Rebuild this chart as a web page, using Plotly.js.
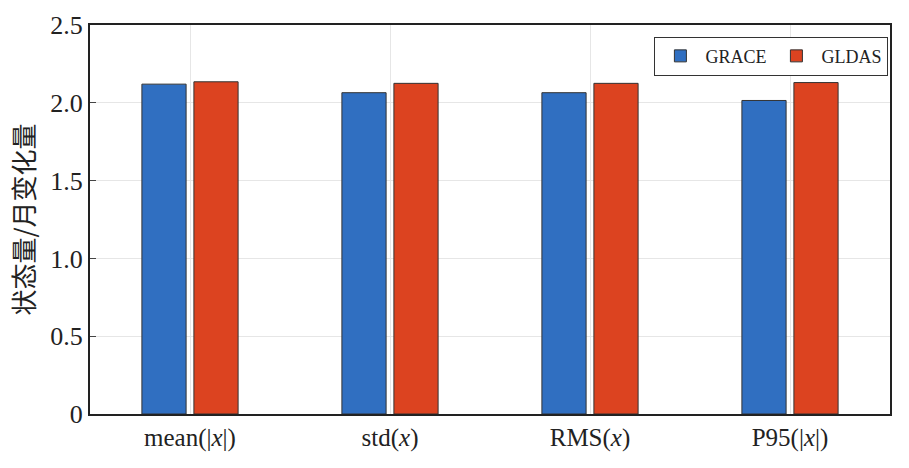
<!DOCTYPE html>
<html><head><meta charset="utf-8">
<script src="https://cdn.plot.ly/plotly-3.0.1.min.js"></script>
<style>body{margin:0}</style></head>
<body><div id="chart" style="width:909px;height:468px"></div>
<script>
var categories = ["mean(|<i>x</i>|)", "std(<i>x</i>)", "RMS(<i>x</i>)", "P95(|<i>x</i>|)"];
var grace = [2.12, 2.065, 2.065, 2.015];
var gldas = [2.135, 2.125, 2.125, 2.13];
var yTicks = [0, 0.5, 1, 1.5, 2, 2.5];
var yTickText = ["0", "0.5", "1.0", "1.5", "2.0", "2.5"];

var serif = "Liberation Serif, Times New Roman, serif";
var data = [
  {type: "bar", name: "GRACE", x: categories, y: grace,
   marker: {color: "#306fc1", line: {color: "#333333", width: 1}}},
  {type: "bar", name: "GLDAS", x: categories, y: gldas,
   marker: {color: "#dc4320", line: {color: "#333333", width: 1}}}
];
var layout = {
  width: 909, height: 468,
  margin: {l: 90, r: 19, t: 25, b: 54},
  paper_bgcolor: "#ffffff", plot_bgcolor: "#ffffff",
  font: {family: serif, size: 22, color: "#222222"},
  bargap: 0.48, bargroupgap: 0.15,
  showlegend: true,
  legend: {x: 0.998, y: 0.97, xanchor: "right", yanchor: "top", orientation: "h",
           bgcolor: "#ffffff", bordercolor: "#333333", borderwidth: 1,
           itemwidth: 40, tracegroupgap: 0,
           font: {family: serif, size: 18}},
  xaxis: {showline: true, mirror: true, linecolor: "#222222", linewidth: 2,
          showgrid: true, gridcolor: "#e6e6e6", ticks: "", tickfont: {size: 25}},
  yaxis: {range: [0, 2.5], tickvals: yTicks, ticktext: yTickText,
          showline: true, mirror: true, linecolor: "#222222", linewidth: 2,
          showgrid: true, gridcolor: "#e6e6e6", ticks: "inside", ticklen: 6,
          zeroline: false, tickfont: {size: 26},
          title: {text: "状态量/月变化量", standoff: 8,
                  font: {family: "Noto Sans CJK SC", size: 26}}}
};
Plotly.newPlot("chart", data, layout, {displayModeBar: false});
</script></body></html>
